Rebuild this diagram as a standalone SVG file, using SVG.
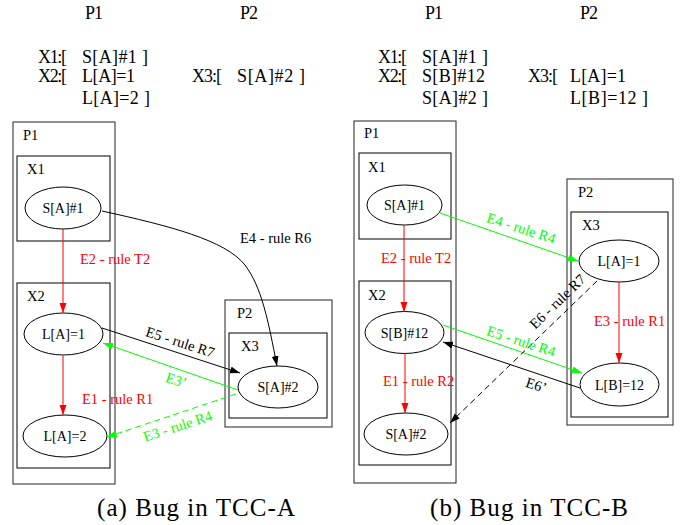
<svg xmlns="http://www.w3.org/2000/svg" width="683" height="525" viewBox="0 0 683 525">
<style>
text{font-family:"Liberation Serif","Times New Roman",serif;font-size:14.5px;fill:#000}
.top{font-size:18px}
.cap{font-size:25px}
.nl{text-anchor:middle;font-size:14px}
.cl{fill:none;stroke:#222;stroke-width:1}
.nd{fill:none;stroke:#000;stroke-width:1}
.e{fill:none;stroke-width:1}
.k{stroke:#000}
.r{stroke:#ff0000}
.g{stroke:#00ff00}
.d{stroke-dasharray:6,4}
.rt{fill:#ff0000}
.gt{fill:#00ff00}
.ml{text-anchor:middle}
</style>
<defs>
<marker id="ak" markerUnits="userSpaceOnUse" markerWidth="10" markerHeight="8" refX="10" refY="3.5" orient="auto"><path d="M0,0 L10,3.5 L0,7 z" fill="#000"/></marker>
<marker id="ar" markerUnits="userSpaceOnUse" markerWidth="10" markerHeight="8" refX="10" refY="3.5" orient="auto"><path d="M0,0 L10,3.5 L0,7 z" fill="#ff0000"/></marker>
<marker id="ag" markerUnits="userSpaceOnUse" markerWidth="10" markerHeight="8" refX="10" refY="3.5" orient="auto"><path d="M0,0 L10,3.5 L0,7 z" fill="#00ff00"/></marker>
</defs>

<!-- Panel (a) header text -->
<g id="a-header">
<text class="top" x="85" y="19" textLength="18">P1</text>
<text class="top" x="240" y="19" textLength="18">P2</text>
<text class="top" x="38" y="63" textLength="29">X1:[</text>
<text class="top" x="82" y="63" textLength="66">S[A]#1 ]</text>
<text class="top" x="38" y="82" textLength="29">X2:[</text>
<text class="top" x="82" y="82" textLength="53">L[A]=1</text>
<text class="top" x="82" y="104" textLength="68">L[A]=2 ]</text>
<text class="top" x="192" y="82" textLength="30">X3:[</text>
<text class="top" x="237" y="82" textLength="68">S[A]#2 ]</text>
</g>

<!-- Panel (a) clusters -->
<g id="a-P1"><rect class="cl" x="13" y="122" width="102" height="362"/><text x="23" y="140">P1</text></g>
<g id="a-X1"><rect class="nd" x="17" y="156" width="93" height="85"/><text x="27" y="174">X1</text></g>
<g id="a-X2"><rect class="nd" x="17" y="283" width="93" height="185"/><text x="27" y="301">X2</text></g>
<g id="a-P2"><rect class="cl" x="225" y="300" width="107" height="127"/><text x="237" y="318">P2</text></g>
<g id="a-X3"><rect class="nd" x="229" y="333" width="98" height="85"/><text x="241" y="351">X3</text></g>

<!-- Panel (a) nodes -->
<g id="a-SA1"><ellipse class="nd" cx="63" cy="208" rx="38" ry="21"/><text class="nl" x="63" y="213">S[A]#1</text></g>
<g id="a-LA1"><ellipse class="nd" cx="63.5" cy="334" rx="39.5" ry="21"/><text class="nl" x="63.5" y="339">L[A]=1</text></g>
<g id="a-LA2"><ellipse class="nd" cx="65" cy="436" rx="42" ry="21"/><text class="nl" x="65" y="441">L[A]=2</text></g>
<g id="a-SA2"><ellipse class="nd" cx="278" cy="387" rx="40" ry="21"/><text class="nl" x="278" y="392">S[A]#2</text></g>

<!-- Panel (a) connectors -->
<g id="a-edges">
<path class="e r" d="M63,229 L63,313" marker-end="url(#ar)"/>
<path class="e r" d="M63,355 L63,415" marker-end="url(#ar)"/>
<path class="e k" d="M102,211 C170,226 225,240 245,265 C262,288 268,320 277,366" marker-end="url(#ak)"/>
<path class="e k" d="M102,328 L240,373" marker-end="url(#ak)"/>
<path class="e g" d="M238,390 L103,343" marker-end="url(#ag)"/>
<path class="e g d" d="M236,394 L107,437" marker-end="url(#ag)"/>
<text class="rt" x="80" y="264">E2 - rule T2</text>
<text class="rt" x="82" y="404">E1 - rule R1</text>
<text x="240" y="243">E4 - rule R6</text>
<text class="ml" x="180" y="347" transform="rotate(18 180 343)">E5 - rule R7</text>
<text class="ml gt" x="176" y="385" transform="rotate(18 176 381)">E3’</text>
<text class="ml gt" x="178" y="431" transform="rotate(-18 178 427)">E3 - rule R4</text>
</g>

<text class="cap" x="97" y="516" textLength="198">(a) Bug in TCC-A</text>

<!-- Panel (b) header text -->
<g id="b-header">
<text class="top" x="425" y="19" textLength="18">P1</text>
<text class="top" x="580" y="19" textLength="18">P2</text>
<text class="top" x="378" y="63" textLength="29">X1:[</text>
<text class="top" x="422" y="63" textLength="66">S[A]#1 ]</text>
<text class="top" x="378" y="82" textLength="29">X2:[</text>
<text class="top" x="422" y="82" textLength="63">S[B]#12</text>
<text class="top" x="422" y="104" textLength="66">S[A]#2 ]</text>
<text class="top" x="528" y="82" textLength="30">X3:[</text>
<text class="top" x="570" y="82" textLength="56">L[A]=1</text>
<text class="top" x="570" y="104" textLength="78">L[B]=12 ]</text>
</g>

<!-- Panel (b) clusters -->
<g id="b-P1"><rect class="cl" x="354" y="121" width="102" height="362"/><text x="364" y="138">P1</text></g>
<g id="b-X1"><rect class="nd" x="359" y="153" width="92" height="86"/><text x="368" y="172">X1</text></g>
<g id="b-X2"><rect class="nd" x="359" y="281" width="92" height="184"/><text x="368" y="300">X2</text></g>
<g id="b-P2"><rect class="cl" x="567" y="179" width="106" height="246"/><text x="578" y="197">P2</text></g>
<g id="b-X3"><rect class="nd" x="571" y="212" width="97" height="205"/><text x="582" y="230">X3</text></g>

<!-- Panel (b) nodes -->
<g id="b-SA1"><ellipse class="nd" cx="404.5" cy="205" rx="37.5" ry="20"/><text class="nl" x="404.5" y="210">S[A]#1</text></g>
<g id="b-SB12"><ellipse class="nd" cx="404.5" cy="332.5" rx="39.5" ry="21"/><text class="nl" x="404.5" y="337.5">S[B]#12</text></g>
<g id="b-SA2"><ellipse class="nd" cx="406" cy="434" rx="42" ry="21"/><text class="nl" x="406" y="439">S[A]#2</text></g>
<g id="b-LA1"><ellipse class="nd" cx="619" cy="261" rx="40" ry="21"/><text class="nl" x="619" y="266">L[A]=1</text></g>
<g id="b-LB12"><ellipse class="nd" cx="619.5" cy="384.5" rx="39.5" ry="21.5"/><text class="nl" x="619.5" y="389.5">L[B]=12</text></g>

<!-- Panel (b) connectors -->
<g id="b-edges">
<path class="e r" d="M404,225 L404,312" marker-end="url(#ar)"/>
<path class="e r" d="M405,353 L405,413" marker-end="url(#ar)"/>
<path class="e r" d="M619,282 L619,363" marker-end="url(#ar)"/>
<path class="e g" d="M440,213 L578,261" marker-end="url(#ag)"/>
<path class="e g" d="M443,325 L582,373" marker-end="url(#ag)"/>
<path class="e k" d="M580,388 L443,342" marker-end="url(#ak)"/>
<path class="e k d" d="M597,281 L450,423" marker-end="url(#ak)"/>
<text class="rt" x="381" y="263">E2 - rule T2</text>
<text class="rt" x="383" y="386">E1 - rule R2</text>
<text class="rt" x="594" y="326">E3 - rule R1</text>
<text class="ml gt" x="521" y="233" transform="rotate(18 521 229)">E4 - rule R4</text>
<text class="ml gt" x="521" y="346" transform="rotate(18 521 342)">E5 - rule R4</text>
<text class="ml" x="536" y="390" transform="rotate(18 536 386)">E6’</text>
<text class="ml" x="558" y="306" transform="rotate(-44 558 302)">E6 - rule R7</text>
</g>

<text class="cap" x="430" y="516" textLength="198">(b) Bug in TCC-B</text>
</svg>
